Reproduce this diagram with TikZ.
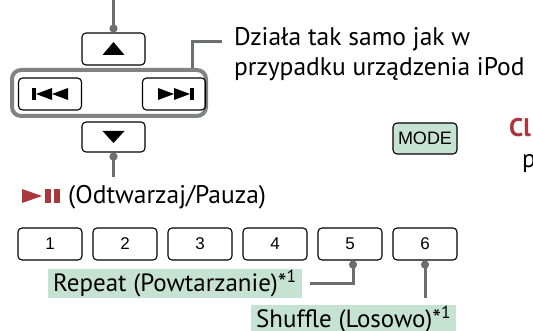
\documentclass[tikz,border=0pt]{standalone}
\usepackage{fontspec}
\setmainfont{PT Sans}
\newfontfamily\keyfont{Liberation Sans}
\usepackage{xcolor}
\usetikzlibrary{arrows.meta}
\definecolor{conngray}{RGB}{109,110,113}
\definecolor{framegray}{RGB}{128,130,133}
\definecolor{tagcolor}{RGB}{198,226,210}
\definecolor{playred}{RGB}{170,55,60}

\begin{document}
\begin{tikzpicture}[x=1pt,y=-1pt,
  key/.style={draw, line width=1.1pt, rounded corners=4pt, minimum width=63pt,
    minimum height=32pt, inner sep=0pt, font=\keyfont\fontsize{17}{17}\selectfont},
  conn/.style={draw=conngray, line width=3pt},
  tag/.style={fill=tagcolor, inner xsep=5pt, inner ysep=0pt, minimum height=29pt,
    anchor=west, font=\fontsize{25}{30}\selectfont},
  txt/.style={font=\fontsize{25.5}{30}\selectfont, inner sep=0pt}]
\useasboundingbox (0,0) rectangle (533,331);

% arrow keys
\node[draw=framegray, line width=4pt, rounded corners=9pt, minimum width=194pt,
  minimum height=46pt] (group) at (109,93) {};
\node[key] (up) at (113.5,49) {};
\node[key, minimum height=30pt] (down) at (113.5,137) {};
\node[key] (prev) at (50,94) {};
\node[key] (next) at (174,94) {};
\fill ([shift={(-11,6)}]up.center) -- ++(22,0) -- ++(-11,-13) -- cycle;
\fill ([shift={(-11,-6)}]down.center) -- ++(22,0) -- ++(-11,12) -- cycle;
\begin{scope}[shift={(prev.center)}]
\fill (-18,-6) rectangle (-14,6);
\fill (-14,0) -- (2,-6) -- (2,6) -- cycle;
\fill (2,0) -- (18,-6) -- (18,6) -- cycle;
\end{scope}
\begin{scope}[shift={(next.center)}]
\fill (-16,-6) -- (0,0) -- (-16,6) -- cycle;
\fill (0,-6) -- (16,0) -- (0,6) -- cycle;
\fill (16,-6) rectangle (20,6);
\end{scope}

\coordinate (upend) at (113.5,0);
\coordinate (downend) at (113.5,177);
\coordinate (dtip) at (222,42);
\draw[conn, -{Circle[length=8pt]}] (upend) -- (up.north);
\draw[conn, {Circle[length=8pt]}-] (down.south) -- (downend);
\draw[conn] ([xshift=-16pt]group.north east) |- (dtip);

\node[txt, anchor=north west, align=left] (desc) at (234,27)
  {Działa tak samo jak w\\przypadku urządzenia iPod};

% mode key and cut text
\node[key, fill=tagcolor, minimum width=64pt, minimum height=31pt,
  font=\keyfont\fontsize{18}{18}\selectfont] (mode) at (425,138.5) {MODE};
\node[txt, anchor=base west, text=playred, font=\bfseries\fontsize{25.5}{26}\selectfont]
  (cl) at (509,137) {Cl};
\node[txt, anchor=base west] (pp) at (522,168) {p};

% play / pause
\fill[playred] (22,189) -- (42,196) -- (22,203) -- cycle;
\fill[playred] (45,189) rectangle (51,203);
\fill[playred] (54,189) rectangle (60,203);
\node[txt, anchor=base west] (play) at (68,204) {(Odtwarzaj/Pauza)};

% number keys
\foreach \n in {1,...,6}
  \node[key, minimum width=64pt] (k\n) at (-25+75*\n,244) {\n};

\node[tag] (rpt) at (48,283.5) {Repeat (Powtarzanie)*\textsuperscript{1}};
\node[tag, minimum height=30pt] (shf) at (251,320) {Shuffle (Losowo)*\textsuperscript{1}};
\draw[conn, {Circle[length=8pt]}-] ([xshift=3pt]k5.south) |- ([xshift=8pt]rpt.east);
\draw[conn, {Circle[length=8pt]}-] (k6.south) -- ([yshift=7pt]k6.south |- shf.north);
\end{tikzpicture}
\end{document}
